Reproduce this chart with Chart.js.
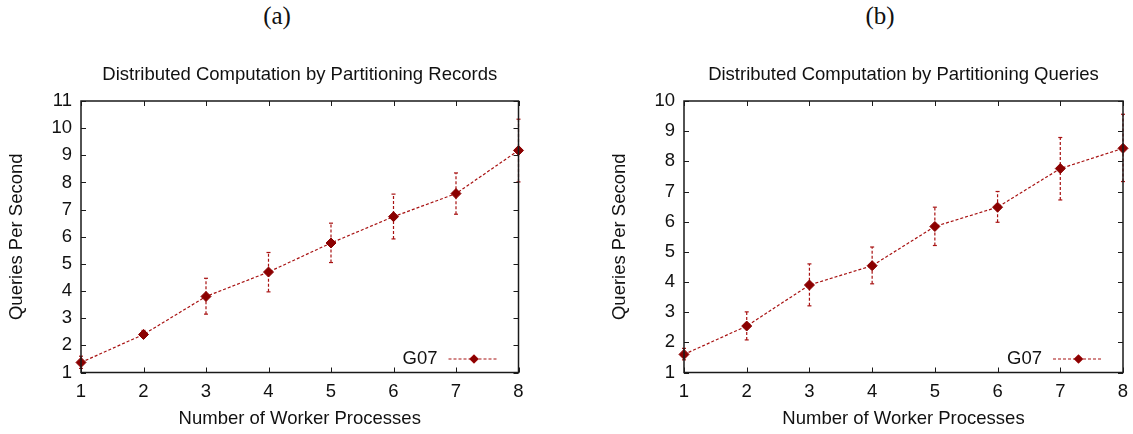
<!DOCTYPE html>
<html>
<head>
<meta charset="utf-8">
<title>Queries Per Second</title>
<script src="https://cdn.jsdelivr.net/npm/chart.js@4.4.1/dist/chart.umd.min.js"></script>
<style>
  body { margin: 0; background: #fff; width: 1133px; height: 434px; position: relative; overflow: hidden; }
  .panel { position: absolute; top: 0; height: 434px; }
  .tag { position: absolute; top: 2px; font-family: "Liberation Serif", "DejaVu Serif", serif; font-size: 25px; color: #111; transform: translateX(-50%); }
</style>
</head>
<body>
<div class="tag" style="left:277px">(a)</div>
<div class="tag" style="left:880px">(b)</div>
<div class="panel" style="left:0;width:566px"><canvas id="recordsChart" width="566" height="434"></canvas></div>
<div class="panel" style="left:566px;width:567px"><canvas id="queriesChart" width="567" height="434"></canvas></div>
<script>
// number of worker processes on the x axis
const workers = [1, 2, 3, 4, 5, 6, 7, 8];

// (a) partitioning records: mean and error range
const recordsMean = [1.37, 2.40, 3.80, 4.70, 5.77, 6.74, 7.59, 9.18];
const recordsLow  = [1.15, 2.30, 3.15, 3.97, 5.05, 5.92, 6.83, 8.02];
const recordsHigh = [1.60, 2.55, 4.47, 5.42, 6.50, 7.57, 8.35, 10.33];

// (b) partitioning queries: mean and error range
const queriesMean = [1.60, 2.54, 3.90, 4.54, 5.84, 6.48, 7.76, 8.43];
const queriesLow  = [1.42, 2.08, 3.21, 3.94, 5.21, 5.98, 6.72, 7.33];
const queriesHigh = [1.80, 3.01, 4.60, 5.16, 6.48, 7.00, 8.79, 9.56];

const seriesName = 'G07';
const markColor = '#8b0000';
const lineColor = '#a81212';
const fontName = "'Liberation Sans', Arial, sans-serif";
const fontSize = 18.5;

// dashed vertical error bars with small caps
const errorBars = {
    id: 'errorBars',
    beforeDatasetsDraw(chart) {
        const ctx = chart.ctx;
        const x = chart.scales.x, y = chart.scales.y;
        chart.data.datasets.forEach(ds => {
            if (!ds.errLow) return;
            ctx.save();
            ctx.strokeStyle = lineColor;
            ctx.lineWidth = 1.2;
            ctx.setLineDash([3, 2]);
            ds.data.forEach((p, i) => {
                const px = x.getPixelForValue(p.x);
                const lo = y.getPixelForValue(ds.errLow[i]);
                const hi = y.getPixelForValue(ds.errHigh[i]);
                ctx.beginPath();
                ctx.moveTo(px, lo);
                ctx.lineTo(px, hi);
                ctx.stroke();
            });
            ctx.setLineDash([]);
            ds.data.forEach((p, i) => {
                const px = x.getPixelForValue(p.x);
                [ds.errLow[i], ds.errHigh[i]].forEach(v => {
                    const py = y.getPixelForValue(v);
                    ctx.beginPath();
                    ctx.moveTo(px - 2, py);
                    ctx.lineTo(px + 2, py);
                    ctx.stroke();
                });
            });
            ctx.restore();
        });
    }
};

// gnuplot style frame: border box with inward ticks on all sides, legend inside
const frame = {
    id: 'frame',
    afterDraw(chart) {
        const ctx = chart.ctx;
        const a = chart.chartArea;
        const x = chart.scales.x, y = chart.scales.y;
        const tick = 5;
        ctx.save();
        ctx.strokeStyle = '#1a1a1a';
        ctx.lineWidth = 1.5;
        ctx.strokeRect(a.left, a.top, a.right - a.left, a.bottom - a.top);
        ctx.lineWidth = 1;
        ctx.beginPath();
        x.ticks.forEach(t => {
            const px = Math.round(x.getPixelForValue(t.value)) + 0.5;
            ctx.moveTo(px, a.bottom); ctx.lineTo(px, a.bottom - tick);
            ctx.moveTo(px, a.top); ctx.lineTo(px, a.top + tick);
        });
        y.ticks.forEach(t => {
            const py = Math.round(y.getPixelForValue(t.value)) + 0.5;
            ctx.moveTo(a.left, py); ctx.lineTo(a.left + tick, py);
            ctx.moveTo(a.right, py); ctx.lineTo(a.right - tick, py);
        });
        ctx.stroke();

        // legend entry
        const ds = chart.data.datasets[0];
        const ly = a.bottom - 13.5;
        ctx.fillStyle = '#111';
        ctx.font = fontSize + 'px ' + fontName;
        ctx.textAlign = 'right';
        ctx.textBaseline = 'middle';
        ctx.fillText(ds.label, a.right - 81, ly);
        ctx.strokeStyle = ds.borderColor;
        ctx.lineWidth = 1.2;
        ctx.setLineDash([3, 2]);
        ctx.beginPath();
        ctx.moveTo(a.right - 70, ly);
        ctx.lineTo(a.right - 21, ly);
        ctx.stroke();
        ctx.setLineDash([]);
        Chart.helpers.drawPoint(ctx, { pointStyle: 'rectRot', radius: 4, borderWidth: 1 }, a.right - 44.5, ly);
        ctx.fillStyle = markColor;
        ctx.fill();
        ctx.restore();
    }
};

function makeChart(canvasId, title, mean, low, high, yMax, axisWidth, padRight) {
    const points = workers.map((w, i) => ({ x: w, y: mean[i] }));
    const half = fontSize * 1.2 / 2;
    return new Chart(document.getElementById(canvasId).getContext('2d'), {
        type: 'line',
        data: {
            datasets: [{
                label: seriesName,
                data: points,
                errLow: low,
                errHigh: high,
                borderColor: lineColor,
                borderWidth: 1.2,
                borderDash: [3, 2],
                pointStyle: 'rectRot',
                pointRadius: 5,
                pointBackgroundColor: markColor,
                pointBorderColor: markColor,
                pointBorderWidth: 1,
                tension: 0,
                clip: false
            }]
        },
        options: {
            responsive: false,
            animation: false,
            layout: { padding: { left: 0, right: padRight, top: 0, bottom: 0 } },
            plugins: {
                legend: { display: false },
                tooltip: { enabled: false },
                title: {
                    display: true,
                    fullSize: false,
                    text: title,
                    color: '#111',
                    font: { family: fontName, size: fontSize, weight: 'normal' },
                    padding: { top: 75 - half, bottom: 101 - 75 - half }
                }
            },
            scales: {
                x: {
                    type: 'linear',
                    min: 1,
                    max: 8,
                    grid: { drawOnChartArea: false, drawTicks: false },
                    border: { display: false },
                    ticks: { stepSize: 1, padding: 8, color: '#111', font: { family: fontName, size: fontSize } },
                    title: {
                        display: true,
                        text: 'Number of Worker Processes',
                        color: '#111',
                        font: { family: fontName, size: fontSize },
                        padding: { top: 0, bottom: 15 - half }
                    },
                    afterFit: s => {
                        s.height = 61.5;
                        s.paddingLeft = 0;
                        s.paddingRight = 0;
                    }
                },
                y: {
                    min: 1,
                    max: yMax,
                    grid: { drawOnChartArea: false, drawTicks: false },
                    border: { display: false },
                    ticks: { stepSize: 1, padding: 9, color: '#111', font: { family: fontName, size: fontSize } },
                    title: {
                        display: true,
                        text: 'Queries Per Second',
                        color: '#111',
                        font: { family: fontName, size: fontSize },
                        padding: { top: axisWidth - 81 + 17 - half, bottom: 0 }
                    },
                    afterFit: s => { s.width = axisWidth; }
                }
            }
        },
        plugins: [errorBars, frame]
    });
}

makeChart('recordsChart', 'Distributed Computation by Partitioning Records',
    recordsMean, recordsLow, recordsHigh, 11, 81, 47.5);
makeChart('queriesChart', 'Distributed Computation by Partitioning Queries',
    queriesMean, queriesLow, queriesHigh, 10, 118, 10);
</script>
</body>
</html>
